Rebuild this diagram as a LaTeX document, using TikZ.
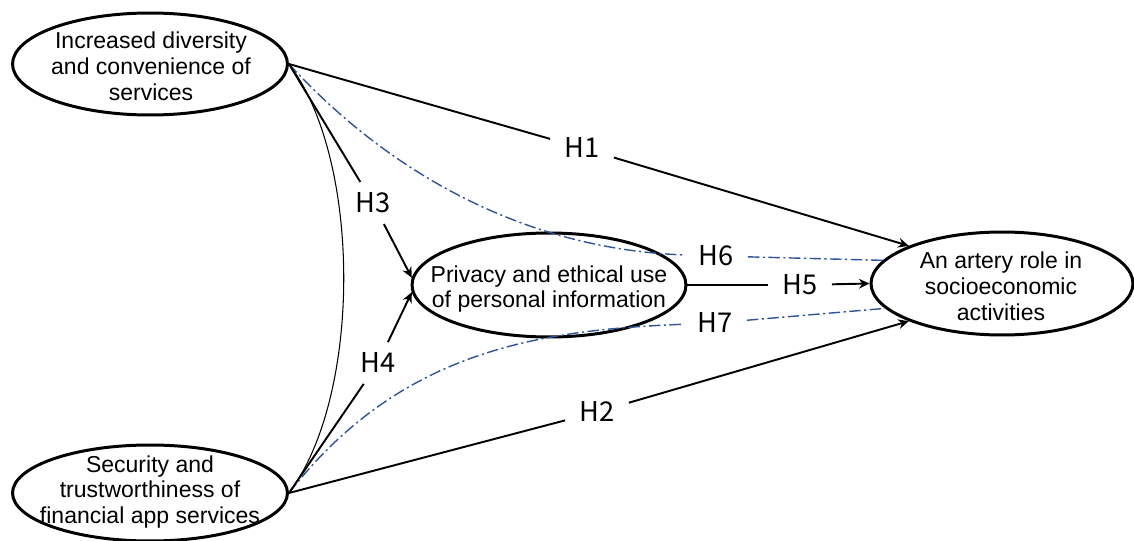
\documentclass[tikz,border=0pt]{standalone}
\usepackage{fontspec}
\setmainfont{Liberation Sans}
\newfontfamily\hfont{Noto Sans CJK SC}
\usetikzlibrary{shapes.geometric,arrows.meta}
\definecolor{dashblue}{RGB}{47,85,151}
\begin{document}
\begin{tikzpicture}[x=0.02cm,y=-0.02cm,
  construct/.style={ellipse, draw, line width=1.7pt, inner sep=0pt},
  ctext/.style={align=center, inner sep=0pt, font=\fontsize{13.1pt}{14.7pt}\selectfont},
  hyp/.style={font=\hfont\fontsize{15.5pt}{18pt}\selectfont, inner xsep=8pt, inner ysep=6pt},
  conn/.style={line width=1.1pt},
  arr/.style={conn, -{Stealth[length=6pt,width=5.5pt]}},
  med/.style={line width=0.8pt, draw=dashblue, dash pattern=on 6.5pt off 2pt on 1.2pt off 2pt},
  corr/.style={line width=0.6pt}
]
\path[use as bounding box] (0,0) rectangle (1134,541);

% constructs
\node[construct, minimum width=5.5cm, minimum height=2.04cm] (A) at (150,64) {};
\node[construct, minimum width=5.5cm, minimum height=1.92cm] (B) at (150,493) {};
\node[construct, minimum width=5.48cm, minimum height=2.08cm] (C) at (549,285) {};
\node[construct, minimum width=5.24cm, minimum height=2.06cm] (D) at (1002,283.5) {};

\node[ctext] (At) at (151,66) {Increased diversity\\and convenience of\\services};
\node[ctext] (Bt) at (150,492) {Security and\\trustworthiness of\\financial app services};
\node[ctext] (Ct) at (549,289) {Privacy and ethical use\\of personal information};
\node[ctext] (Dt) at (1001,286.5) {An artery role in\\socioeconomic\\activities};

% hypothesis labels
\node[hyp] (h1) at (582,148) {H1};
\node[hyp] (h2) at (597,412) {H2};
\node[hyp] (h3) at (373,203) {H3};
\node[hyp] (h4) at (378,363) {H4};
\node[hyp] (h5) at (800,285) {H5};
\node[hyp] (h6) at (716,256) {H6};
\node[hyp] (h7) at (715,323) {H7};

% correlation curve
\draw[corr] (A.east) .. controls (362,160) and (362,396) .. (B.east);

% mediation (dash-dot) paths
\draw[med] (A.east) .. controls (400,185) and (540,250) .. (h6);
\draw[med] (h6) -- (D.169);
\draw[med] (B.east) .. controls (400,350) and (540,330) .. (h7);
\draw[med] (h7) -- (D.192);

% direct paths
\draw[conn] (A.east) -- (h1);
\draw[arr] (h1) -- (D.158);
\draw[conn] (B.east) -- (h2);
\draw[arr] (h2) -- (D.202);
\draw[conn] (A.east) -- (h3);
\draw[arr] (h3) -- (C.177);
\draw[conn] (B.east) -- (h4);
\draw[arr] (h4) -- (C.183);
\draw[conn] (C.east) -- (h5);
\draw[arr] (h5) -- (D.west);
\end{tikzpicture}
\end{document}
